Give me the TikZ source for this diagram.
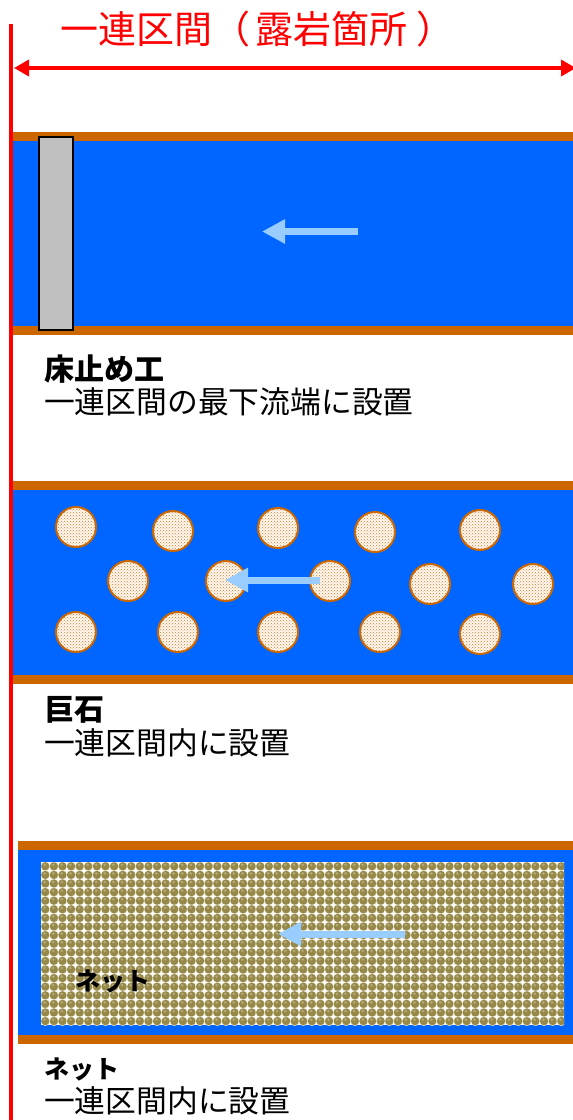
\documentclass[tikz,border=0pt]{standalone}
\usepackage{fontspec}
\setmainfont{Noto Sans CJK JP}
\usetikzlibrary{arrows.meta,patterns}
\definecolor{riverblue}{HTML}{0066FF}
\definecolor{bank}{HTML}{CC6600}
\definecolor{flow}{HTML}{99CCFF}
\definecolor{netol}{HTML}{958848}
\definecolor{nethl}{HTML}{B3A978}
\definecolor{netedge}{HTML}{E6E0C6}
\definecolor{stonegray}{HTML}{C0C0C0}
\definecolor{rockfill}{HTML}{FFF8F0}
\definecolor{redline}{HTML}{FF0000}
\begin{document}
\begin{tikzpicture}[x=1pt,y=-1pt,
  bankband/.style={fill=bank, draw=none},
  water/.style={fill=riverblue, draw=none},
  flowarrow/.style={draw=flow, line width=7pt, -{Triangle[length=23pt,width=23pt]}},
  boulder/.style={circle, minimum size=40pt, inner sep=0pt, draw=bank, line width=2pt,
    fill=rockfill, postaction={pattern=crosshatch dots, pattern color=bank!85}},
  lbl/.style={anchor=base west, inner sep=0pt, font=\fontsize{30.8}{36}\selectfont},
  lblb/.style={anchor=base west, inner sep=0pt, font=\fontsize{30}{36}\selectfont\bfseries},
]
\useasboundingbox (0,0) rectangle (573,1120);
\fill[white] (0,0) rectangle (573,1120);

% ---- title and span arrow
\node[anchor=base west, inner sep=0pt, text=redline, font=\fontsize{38}{44}\selectfont] (title) at (60,43) {一連区間（\hspace{5pt}露岩箇所\hspace{9pt}）};
\coordinate (spanL) at (14,68);
\coordinate (spanR) at (576,68);
\draw[draw=redline, line width=3.5pt, {Triangle[length=15pt,width=16pt]}-{Triangle[length=15pt,width=16pt]}] (spanL) -- (spanR);

% ---- panel 1: bed girdle
\fill[bankband] (13,132) rectangle (573,141);
\fill[water] (13,141) rectangle (573,326);
\fill[bankband] (13,326) rectangle (573,335);
\node[draw=black, line width=1.5pt, fill=stonegray, minimum width=34pt, minimum height=193pt, inner sep=0pt, anchor=north west] (sill) at (38,136) {};
\coordinate (f1s) at (358,231.5);
\coordinate (f1e) at (262,231.5);
\draw[flowarrow] (f1s) -- (f1e);
\node[lblb] (t1a) at (44,380) {床止め工};
\node[lbl] (t1b) at (44,413.5) {一連区間の最下流端に設置};

% ---- panel 2: boulders
\fill[bankband] (13,481) rectangle (573,490);
\fill[water] (13,490) rectangle (573,675);
\fill[bankband] (13,675) rectangle (573,684);
\foreach \n/\x/\y in {a/76/527, b/173/531, c/278/528, d/375/532, e/480/530,
                      f/128/581, g/226/581, h/330/581, i/430/584, j/533/584,
                      k/76/632, l/178/632, m/278/632, n/380/632, o/480/634}{
  \node[boulder] (rock\n) at (\x,\y) {};
}
\coordinate (f2s) at (320,580);
\coordinate (f2e) at (225,580);
\draw[flowarrow] (f2s) -- (f2e);
\node[lblb] (t2a) at (44,720) {巨石};
\node[lbl] (t2b) at (44,754) {一連区間内に設置};

% ---- panel 3: net
\fill[bankband] (18,841) rectangle (573,850);
\fill[water] (18,850) rectangle (573,1035);
\fill[bankband] (18,1035) rectangle (573,1044);
\begin{scope}
  \clip (41,862) rectangle (564,1025);
  \fill[white] (41,862) rectangle (564,1025);
  \foreach \i in {0,...,61}{
    \foreach \j in {0,...,19}{
      \fill[netedge] ({41+\i*8.6+4.3},{862+\j*8.6+4.3}) circle[radius=4.7pt];
      \fill[netol] ({41+\i*8.6+4.3},{862+\j*8.6+4.3}) circle[radius=4.1pt];
      \fill[nethl] ({41+\i*8.6+3.6},{862+\j*8.6+2.8}) circle[radius=1.5pt];
    }
  }
\end{scope}
\node[anchor=base west, inner sep=0pt, font=\fontsize{25}{30}\selectfont\bfseries] (netlabel) at (75,990) {ネット};
\coordinate (f3s) at (405,934);
\coordinate (f3e) at (278,934);
\draw[flowarrow] (f3s) -- (f3e);
\node[anchor=base west, inner sep=0pt, font=\fontsize{25}{30}\selectfont\bfseries] (t3a) at (44,1078) {ネット};
\node[lbl] (t3b) at (44,1112) {一連区間内に設置};

% ---- red reference line
\coordinate (vtop) at (11,24);
\coordinate (vbot) at (11,1120);
\draw[draw=redline, line width=4pt] (vtop) -- (vbot);
\end{tikzpicture}
\end{document}
